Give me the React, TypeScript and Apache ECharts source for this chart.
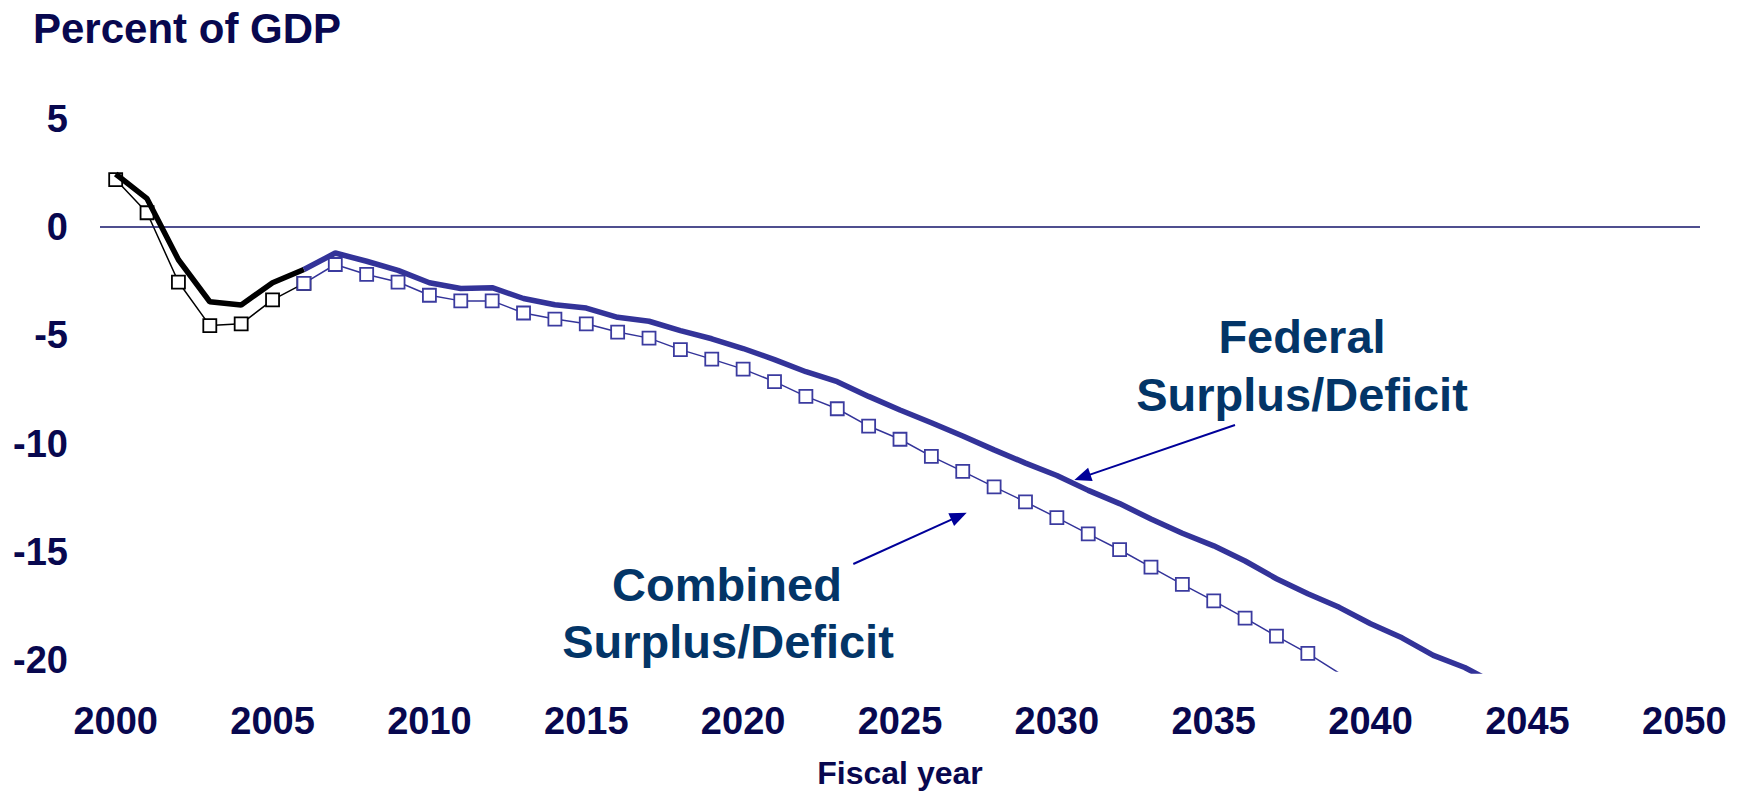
import React, { useEffect, useRef } from "react";
import * as echarts from "echarts";

// ---- Data ----
const years: string[] = [
  "2000", "2001", "2002", "2003", "2004", "2005", "2006", "2007", "2008", "2009",
  "2010", "2011", "2012", "2013", "2014", "2015", "2016", "2017", "2018", "2019",
  "2020", "2021", "2022", "2023", "2024", "2025", "2026", "2027", "2028", "2029",
  "2030", "2031", "2032", "2033", "2034", "2035", "2036", "2037", "2038", "2039",
  "2040", "2041", "2042", "2043", "2044", "2045", "2046", "2047", "2048", "2049",
  "2050",
];

// Federal surplus/deficit, % of GDP, 2000..2044
const federalSurplus: number[] = [
  2.45, 1.31, -1.51, -3.45, -3.6, -2.57, -1.96, -1.2, -1.58, -2.0,
  -2.57, -2.84, -2.8, -3.3, -3.59, -3.74, -4.17, -4.35, -4.78, -5.16,
  -5.61, -6.12, -6.68, -7.14, -7.82, -8.45, -9.04, -9.65, -10.29, -10.9,
  -11.47, -12.16, -12.77, -13.48, -14.14, -14.72, -15.42, -16.24, -16.93, -17.56,
  -18.32, -18.97, -19.78, -20.34, -21.1,
];

// Combined surplus/deficit, % of GDP, 2000..2039
const combinedSurplus: number[] = [
  2.19, 0.66, -2.54, -4.55, -4.47, -3.36, -2.6, -1.73, -2.19, -2.54,
  -3.15, -3.41, -3.41, -3.97, -4.25, -4.47, -4.85, -5.13, -5.66, -6.1,
  -6.56, -7.14, -7.82, -8.39, -9.19, -9.8, -10.59, -11.28, -12.0, -12.69,
  -13.42, -14.17, -14.9, -15.7, -16.5, -17.26, -18.06, -18.89, -19.69, -20.6,
];

const yTickLabels: number[] = [-20, -15, -10, -5, 0, 5];
const lastActualYear = "2006";

// ---- Styling ----
const FONT = "'Liberation Sans', Arial, Helvetica, sans-serif";
const NAVY = "#08084f";
const NOTE = "#033567";
const BLUE = "#333399";
const ARROW = "#000099";

function arrow(x1: number, y1: number, x2: number, y2: number) {
  const dx = x2 - x1;
  const dy = y2 - y1;
  const len = Math.sqrt(dx * dx + dy * dy);
  const ux = dx / len;
  const uy = dy / len;
  const headLen = 17;
  const halfW = 7;
  const bx = x2 - ux * headLen;
  const by = y2 - uy * headLen;
  const nx = -uy;
  const ny = ux;
  return [
    {
      type: "line",
      shape: { x1, y1, x2: bx + ux * 2, y2: by + uy * 2 },
      style: { stroke: ARROW, lineWidth: 2 },
      silent: true,
    },
    {
      type: "polygon",
      shape: {
        points: [
          [x2, y2],
          [bx + nx * halfW, by + ny * halfW],
          [bx - nx * halfW, by - ny * halfW],
        ],
      },
      style: { fill: ARROW },
      silent: true,
    },
  ];
}

function noteText(text: string, x: number, y: number) {
  return {
    type: "text",
    x,
    y,
    silent: true,
    style: {
      text,
      fontSize: 47,
      fontWeight: "bold",
      fontFamily: FONT,
      fill: NOTE,
      align: "center",
      verticalAlign: "middle",
    },
  };
}

export default function App() {
  const ref = useRef<HTMLDivElement>(null);

  useEffect(() => {
    if (!ref.current) return;
    const chart = echarts.init(ref.current, undefined, { renderer: "svg" });

    const split = years.indexOf(lastActualYear);
    const fedActual = years.map((_, i) =>
      i <= split && i < federalSurplus.length ? federalSurplus[i] : null
    );
    const fedProj = years.map((_, i) =>
      i >= split && i < federalSurplus.length ? federalSurplus[i] : null
    );
    const combActual = years.map((_, i) =>
      i <= split && i < combinedSurplus.length ? combinedSurplus[i] : null
    );
    const combProj = years.map((_, i) =>
      i >= split && i < combinedSurplus.length ? combinedSurplus[i] : null
    );

    const option: any = {
      animation: false,
      backgroundColor: "#ffffff",
      grid: { left: 100, right: 40, top: 118.75, height: 559.75, containLabel: false },
      xAxis: {
        type: "category",
        data: years,
        boundaryGap: true,
        axisLine: { show: false },
        axisTick: { show: false },
        splitLine: { show: false },
        axisLabel: {
          interval: 4,
          margin: 31,
          fontSize: 38,
          fontWeight: "bold",
          fontFamily: FONT,
          color: NAVY,
        },
        name: "Fiscal year",
        nameLocation: "middle",
        nameGap: 86,
        nameTextStyle: {
          fontSize: 32,
          fontWeight: "bold",
          fontFamily: FONT,
          color: NAVY,
        },
      },
      yAxis: {
        type: "value",
        min: -20.5,
        max: 5,
        interval: 0.5,
        axisLine: { show: false },
        axisTick: { show: false },
        splitLine: { show: false },
        axisLabel: {
          margin: 32,
          fontSize: 38,
          fontWeight: "bold",
          fontFamily: FONT,
          color: NAVY,
          formatter: (v: number) => (yTickLabels.includes(v) ? String(v) : ""),
        },
      },
      series: [
        {
          name: "Combined (actual)",
          type: "line",
          data: combActual,
          showAllSymbol: true,
          symbol: "rect",
          symbolSize: 13,
          itemStyle: { color: "#ffffff", borderColor: "#000000", borderWidth: 1.8 },
          lineStyle: { color: "#000000", width: 1.5 },
          z: 3,
          markLine: {
            silent: true,
            symbol: "none",
            label: { show: false },
            lineStyle: { color: "#14146a", width: 1.5, type: "solid" },
            data: [{ yAxis: 0 }],
          },
        },
        {
          name: "Combined (projected)",
          type: "line",
          data: combProj,
          showAllSymbol: true,
          symbol: "rect",
          symbolSize: 13,
          itemStyle: { color: "#ffffff", borderColor: "#3b3b9f", borderWidth: 1.8 },
          lineStyle: { color: BLUE, width: 1.5 },
          z: 4,
        },
        {
          name: "Federal (actual)",
          type: "line",
          data: fedActual,
          showSymbol: false,
          lineStyle: { color: "#000000", width: 5.5 },
          z: 5,
        },
        {
          name: "Federal (projected)",
          type: "line",
          data: fedProj,
          showSymbol: false,
          lineStyle: { color: BLUE, width: 5.5 },
          z: 5,
        },
      ],
      graphic: [
        {
          type: "text",
          x: 33,
          y: 28,
          silent: true,
          style: {
            text: "Percent of GDP",
            fontSize: 42,
            fontWeight: "bold",
            fontFamily: FONT,
            fill: NAVY,
            align: "left",
            verticalAlign: "middle",
          },
        },
        noteText("Federal", 1302, 336),
        noteText("Surplus/Deficit", 1302, 394),
        noteText("Combined", 727, 584.5),
        noteText("Surplus/Deficit", 728, 641.5),
        ...arrow(1235, 425, 1074.3, 480),
        ...arrow(853.3, 564, 966.7, 512.7),
      ],
    };

    chart.setOption(option);
    return () => {
      chart.dispose();
    };
  }, []);

  return (
    <div
      ref={ref}
      style={{ position: "fixed", left: 0, top: 0, width: 1740, height: 794 }}
    />
  );
}
